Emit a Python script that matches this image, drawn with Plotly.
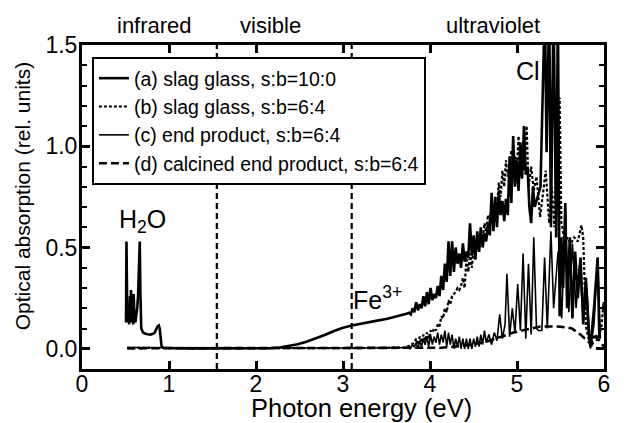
import plotly.graph_objects as go

# ---------------- data ----------------
# (a) slag glass, s:b=10:0  -- H2O bands, Fe3+ shoulder, UV edge, Cl peaks
ea = [0.506, 0.511, 0.521, 0.532, 0.542, 0.552, 0.558, 0.563, 0.573, 0.583, 0.589, 0.594,
      0.604, 0.614, 0.625, 0.635, 0.645, 0.656, 0.664, 0.671, 0.681, 0.702, 0.723, 0.754,
      0.785, 0.816, 0.836, 0.852, 0.867, 0.883, 0.893, 0.903, 0.914, 0.929, 0.981,
      1.03, 1.24, 1.45, 1.65, 1.86, 2.07, 2.17, 2.27, 2.37, 2.48, 2.58, 2.68, 2.79, 2.89,
      2.99, 3.10, 3.20, 3.30, 3.41, 3.51, 3.61, 3.72, 3.76,
      3.779, 3.800, 3.820, 3.841, 3.862, 3.882, 3.903, 3.924, 3.944, 3.965, 3.985, 4.006,
      4.027, 4.047, 4.068, 4.089, 4.109, 4.130, 4.151, 4.171, 4.192, 4.213, 4.233, 4.254,
      4.275, 4.295, 4.316, 4.337, 4.357, 4.378, 4.398, 4.419, 4.440, 4.460, 4.481, 4.502,
      4.522, 4.543, 4.564, 4.584, 4.605, 4.626, 4.646, 4.667, 4.688, 4.708, 4.729, 4.750,
      4.770, 4.791, 4.811, 4.832, 4.853, 4.873, 4.894, 4.915, 4.935, 4.956, 4.977, 4.997,
      5.018, 5.039, 5.059, 5.080, 5.101, 5.121, 5.142, 5.163, 5.183, 5.204,
      5.27, 5.32, 5.34, 5.37, 5.39, 5.42, 5.45, 5.47, 5.49, 5.51, 5.53, 5.555, 5.576,
      5.607, 5.637, 5.668, 5.699, 5.730, 5.761, 5.792, 5.823, 5.844, 5.885, 5.927, 5.947]
aa = [0.13, 0.53, 0.13, 0.22, 0.12, 0.26, 0.15, 0.29, 0.13, 0.24, 0.12, 0.27,
      0.14, 0.13, 0.17, 0.20, 0.27, 0.38, 0.53, 0.28, 0.10, 0.08, 0.075, 0.072,
      0.070, 0.074, 0.080, 0.095, 0.110, 0.115, 0.100, 0.060, 0.015, 0.005, 0.003,
      0.003, 0.002, 0.002, 0.001, 0.001, 0.002, 0.003, 0.006, 0.012, 0.022, 0.035, 0.050,
      0.068, 0.086, 0.102, 0.115, 0.124, 0.132, 0.140, 0.148, 0.158, 0.172, 0.178,
      0.17, 0.20, 0.18, 0.23, 0.19, 0.22, 0.20, 0.26, 0.21, 0.28, 0.22, 0.30, 0.24, 0.27,
      0.25, 0.31, 0.26, 0.36, 0.29, 0.42, 0.33, 0.53, 0.36, 0.53, 0.38, 0.50, 0.42, 0.47,
      0.40, 0.52, 0.43, 0.48, 0.45, 0.62, 0.46, 0.56, 0.44, 0.58, 0.48, 0.60, 0.50, 0.57,
      0.53, 0.62, 0.56, 0.77, 0.58, 0.75, 0.60, 0.78, 0.66, 0.73, 0.63, 0.74, 0.66, 0.95,
      0.72, 1.05, 0.80, 0.93, 0.78, 1.02, 0.84, 1.10, 0.86, 0.90, 0.70, 0.62, 0.80, 0.70,
      0.80, 1.70, 0.97, 1.70, 0.60, 1.70, 0.55, 1.70, 0.16, 0.55, 0.30, 0.72, 0.20,
      0.55, 0.15, 0.48, 0.25, 0.45, 0.12, 0.35, 0.08, 0.01, 0.20, 0.45, 0.05]

# (b) slag glass, s:b=6:4
eb = [0.52, 1.03, 2.07, 3.10, 3.61, 3.72, 3.74, 3.78, 3.82,
      3.841, 3.862, 3.882, 3.903, 3.924, 3.944, 3.965, 3.985, 4.006, 4.027, 4.047, 4.068,
      4.089, 4.109, 4.130, 4.151, 4.171, 4.192, 4.213, 4.233, 4.254, 4.275, 4.295, 4.316,
      4.337, 4.357, 4.378, 4.398, 4.419, 4.440, 4.460, 4.481, 4.502, 4.522, 4.543, 4.564,
      4.584, 4.605, 4.626, 4.646, 4.667, 4.688, 4.708, 4.729, 4.750, 4.770, 4.791, 4.811,
      4.832, 4.853, 4.873, 4.894, 4.915, 4.935, 4.956, 4.977, 4.997, 5.018, 5.039, 5.059,
      5.080,
      5.111, 5.132, 5.163, 5.193, 5.224, 5.266, 5.33, 5.37, 5.40, 5.43, 5.46, 5.49, 5.51,
      5.53, 5.55, 5.576, 5.617, 5.658, 5.699, 5.741, 5.761, 5.792, 5.823, 5.854, 5.885,
      5.916, 5.968, 5.995, 6.03]
ab = [0.004, 0.003, 0.003, 0.003, 0.004, 0.006, 0.01, 0.02, 0.03,
      0.05, 0.02, 0.06, 0.03, 0.07, 0.04, 0.08, 0.05, 0.09, 0.08, 0.10, 0.09,
      0.12, 0.11, 0.16, 0.15, 0.20, 0.18, 0.24, 0.22, 0.26, 0.27, 0.28, 0.30,
      0.29, 0.31, 0.35, 0.30, 0.45, 0.38, 0.47, 0.40, 0.50, 0.45, 0.55, 0.48,
      0.58, 0.53, 0.62, 0.58, 0.66, 0.62, 0.70, 0.65, 0.72, 0.70, 0.82, 0.75,
      0.88, 0.80, 0.93, 0.85, 0.90, 0.98, 0.85, 0.95, 0.88, 1.05, 0.85, 1.00,
      0.88,
      1.10, 0.80, 0.90, 0.78, 0.85, 0.65, 0.88, 0.62, 0.80, 0.60, 1.10, 1.24, 0.62,
      0.58, 0.50, 0.55, 0.52, 0.55, 0.53, 0.61, 0.55, 0.11, 0.05, 0.02, 0.07,
      0.04, 0.10, 0.23, 0.08]

# (c) end product, s:b=6:4
ec = [0.52, 1.03, 2.07, 3.10, 3.61, 3.72, 3.74, 3.77, 3.80, 3.82,
      3.841, 3.862, 3.882, 3.903, 3.924, 3.944, 3.965, 3.985, 4.006, 4.027, 4.047, 4.068,
      4.089, 4.109, 4.130, 4.151, 4.171, 4.192, 4.213, 4.233, 4.254, 4.275, 4.295, 4.316,
      4.337, 4.357, 4.378, 4.398, 4.419, 4.440, 4.460, 4.481, 4.502, 4.522, 4.543, 4.564,
      4.584, 4.605, 4.626, 4.646,
      4.677, 4.708, 4.739, 4.770, 4.801, 4.832, 4.863, 4.884, 4.915, 4.946, 4.977, 5.008,
      5.039, 5.070, 5.101, 5.132, 5.163, 5.193, 5.224, 5.245, 5.286, 5.317, 5.348, 5.390,
      5.421, 5.472, 5.514, 5.555, 5.596, 5.637, 5.679, 5.720, 5.761, 5.803, 5.844, 5.885,
      5.927, 5.958]
ac = [0.006, 0.005, 0.004, 0.004, 0.005, 0.006, 0.01, 0.00, 0.02, 0.01,
      0.03, 0.00, 0.04, 0.01, 0.05, 0.02, 0.06, 0.01, 0.07, 0.02, 0.06, 0.03,
      0.08, 0.02, 0.07, 0.03, 0.09, 0.01, 0.08, 0.02, 0.07, 0.00, 0.05, 0.01,
      0.06, 0.00, 0.05, 0.00, 0.05, 0.00, 0.05, 0.00, 0.05, 0.01, 0.06, 0.01,
      0.07, 0.02, 0.09, 0.03,
      0.07, 0.02, 0.08, 0.04, 0.17, 0.05, 0.12, 0.37, 0.06, 0.20, 0.08, 0.32,
      0.09, 0.47, 0.05, 0.42, 0.07, 0.55, 0.10, 0.09, 0.09, 0.45, 0.10, 0.58,
      0.20, 0.48, 0.15, 0.68, 0.18, 0.52, 0.20, 0.42, 0.15, 0.30, 0.00, 0.12,
      0.45, 0.05]

# (d) calcined end product, s:b=6:4
ed = [0.52, 1.03, 2.07, 3.10, 3.92, 4.03, 4.13, 4.23, 4.34, 4.44, 4.54, 4.65, 4.75,
      4.85, 4.96, 5.06, 5.16, 5.27, 5.37, 5.47, 5.58, 5.63, 5.68, 5.73, 5.78, 5.83,
      5.86, 5.91, 5.95, 5.99, 6.04]
ad = [0.002, 0.002, 0.002, 0.002, 0.002, 0.003, 0.005, 0.008, 0.012, 0.018, 0.025, 0.035,
      0.050, 0.065, 0.080, 0.090, 0.100, 0.110, 0.110, 0.110, 0.105, 0.100, 0.085, 0.070,
      0.050, 0.030, 0.020, 0.060, 0.040, 0.015, 0.010]

series_names = ["(a) slag glass, s:b=10:0", "(b) slag glass, s:b=6:4",
                "(c) end product, s:b=6:4", "(d) calcined end product, s:b=6:4"]

region_bounds = [1.55, 3.1]                       # infrared | visible | ultraviolet
region_labels = ["infrared", "visible", "ultraviolet"]
region_label_x = [0.83, 2.17, 4.72]

peak_labels = ["H<sub>2</sub>O", "Fe<sup>3+</sup>", "Cl"]
peak_label_x = [0.70, 3.40, 5.13]
peak_label_y = [0.63, 0.25, 1.37]

x_ticks = [0, 1, 2, 3, 4, 5, 6]
y_ticks = [0.0, 0.5, 1.0, 1.5]

x_title = "Photon energy (eV)"
y_title = "Optical absorption (rel. units)"

FONT = "Liberation Sans, Arial, Helvetica, sans-serif"

# ---------------- figure ----------------
fig = go.Figure()
styles = [dict(width=2.6, dash="solid"),
          dict(width=2.2, dash="3px,2px"),
          dict(width=1.6, dash="solid"),
          dict(width=2.6, dash="8px,4px")]
for x, y, name, st in zip([ea, eb, ec, ed], [aa, ab, ac, ad], series_names, styles):
    fig.add_trace(go.Scatter(x=x, y=y, mode="lines", name=name,
                             line=dict(color="black", width=st["width"], dash=st["dash"])))

for xb in region_bounds:
    fig.add_shape(type="line", xref="x", yref="paper", x0=xb, x1=xb, y0=0, y1=1,
                  line=dict(color="black", width=2.2, dash="6px,4px"), layer="above")

for txt, xv in zip(region_labels, region_label_x):
    fig.add_annotation(x=xv, xref="x", y=1, yref="paper", yanchor="bottom", text=txt,
                       showarrow=False, font=dict(size=22, color="black", family=FONT),
                       yshift=5)

for txt, xv, yv in zip(peak_labels, peak_label_x, peak_label_y):
    fig.add_annotation(x=xv, y=yv, xref="x", yref="y", text=txt, showarrow=False,
                       font=dict(size=25, color="black", family=FONT))

# axis titles
fig.add_annotation(x=3.21, xref="x", y=-0.12, yref="paper", text=x_title, showarrow=False,
                   font=dict(size=25.5, color="black", family=FONT), yanchor="middle")
fig.add_annotation(x=-0.115, xref="paper", y=0.533, yref="paper", text=y_title,
                   textangle=-90, showarrow=False, xanchor="center", yanchor="middle",
                   font=dict(size=21, color="black", family=FONT))

fig.update_layout(
    width=621, height=415,
    margin=dict(l=74, r=25, t=37, b=54, autoexpand=False),
    paper_bgcolor="white", plot_bgcolor="white",
    font=dict(family=FONT, color="black", size=22),
    showlegend=True,
    legend=dict(x=0.019, y=0.963, xanchor="left", yanchor="top",
                bgcolor="white", bordercolor="black", borderwidth=2,
                font=dict(size=19.5, family=FONT, color="black"),
                tracegroupgap=0),
)
fig.update_xaxes(range=[0, 6], tickvals=x_ticks, ticks="inside", ticklen=8, tickwidth=2.5,
                 tickcolor="black", showline=True, linewidth=3, linecolor="black",
                 mirror="ticks", showgrid=False, zeroline=False, automargin=False,
                 ticklabeloverflow="allow", ticklabelstandoff=-8,
                 tickfont=dict(size=23, family=FONT))
fig.update_yaxes(range=[-0.1, 1.5], tickvals=y_ticks, tickformat=".1f", ticks="inside",
                 ticklen=8, tickwidth=2.5, tickcolor="black", showline=True, linewidth=3,
                 linecolor="black", mirror="ticks", showgrid=False, zeroline=False,
                 automargin=False, ticklabeloverflow="allow", ticklabelstandoff=-3,
                 minor=dict(dtick=0.1, tick0=0, ticks="inside", ticklen=5, tickwidth=2,
                            tickcolor="black", showgrid=False),
                 tickfont=dict(size=23, family=FONT))

fig.write_html("out.html")
